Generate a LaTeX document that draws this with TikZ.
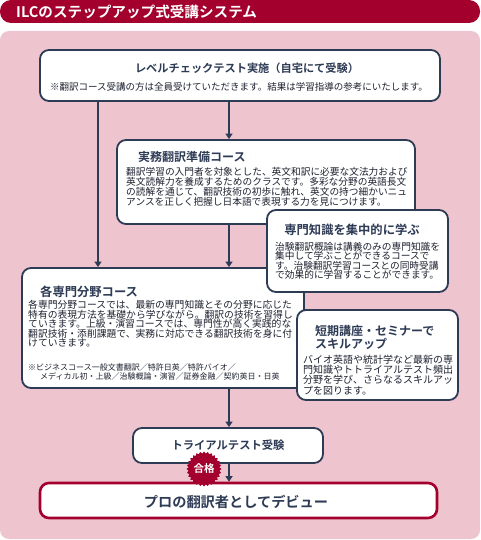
\documentclass[tikz,border=0pt]{standalone}
\usepackage{fontspec}
\setmainfont{Noto Sans CJK JP}[BoldFont={Noto Sans CJK JP Bold}]
\usetikzlibrary{arrows.meta,shapes.geometric}
\definecolor{ilcred}{HTML}{A3002E}
\definecolor{ilcpink}{HTML}{EEC4CF}
\definecolor{ilcnavy}{HTML}{2E3B55}
\definecolor{ilctext}{HTML}{1E2230}
\newcommand{\fsz}[2]{\fontsize{#1}{#2}\selectfont}
\begin{document}
\begin{tikzpicture}[x=1pt,y=-1pt,
  box/.style={draw=ilcnavy, line width=1.8pt, fill=white, rounded corners=9pt, inner sep=0, rectangle},
  arr/.style={draw=ilcnavy, line width=1.8pt, -{Triangle[width=7pt,length=5.5pt]}},
  body/.style={inner sep=0, anchor=north west, align=left, text=ilctext},
  head/.style={inner sep=0, text=ilcnavy, font=\bfseries}]
\useasboundingbox (0,0) rectangle (480,540);
% background
\fill[ilcpink, rounded corners=9pt] (0,31) rectangle (480,539);
\fill[ilcred, rounded corners=11pt] (0,0) rectangle (480,23);
\node[inner sep=0, anchor=west, text=white, font=\bfseries\fsz{14.6}{14.6}] (ttl) at (16,11.5) {ILCのステップアップ式受講システム};

% coordinates for vertical connectors
\coordinate (xl) at (98,0);
\coordinate (xc) at (229,0);

% boxes
\node[box, minimum width=400pt, minimum height=51pt] (lvl) at (240,75.5) {};
\node[box, minimum width=298pt, minimum height=84pt] (prep) at (266,182) {};
\node[box, minimum width=282pt, minimum height=120pt] (spec) at (163,328) {};
\node[box, minimum width=181pt, minimum height=82pt] (focus) at (357.5,251) {};
\node[box, minimum width=161pt, minimum height=90pt] (short) at (377.5,355) {};
\node[box, minimum width=190pt, minimum height=35pt] (trial) at (228,445.5) {};

% connectors
\draw[arr] (lvl.south -| xl) -- (spec.north -| xl);
\draw[arr] (lvl.south -| xc) -- (prep.north -| xc);
\draw[arr] (prep.south -| xc) -- (spec.north -| xc);
\draw[arr] (spec.south -| xc) -- (trial.north -| xc);

% final
\node[box, draw=ilcred, line width=2.6pt, minimum width=397pt, minimum height=35pt] (final) at (238.5,500.5) {};
\draw[arr] (trial.south -| xc) -- (final.north -| xc);
\node[star, star points=28, star point ratio=1.13, fill=ilcred, minimum size=35pt, inner sep=0,
      text=white, font=\bfseries\fsz{10.5}{10.5}] (pass) at (204,469) {合格};

% texts
\node[head, font=\bfseries\fsz{11.2}{11.2}] (lvlt) at (247,68) {レベルチェックテスト実施（自宅にて受験）};
\node[inner sep=0, text=ilctext, font=\fsz{9.5}{9.5}] (lvls) at (239,87) {※翻訳コース受講の方は全員受けていただきます。結果は学習指導の参考にいたします。};

\node[head, anchor=west, font=\bfseries\fsz{12}{12}] (prept) at (138,157) {実務翻訳準備コース};
\node[body, font=\fsz{9.7}{10.2}] (prepb) at (126,167) {翻訳学習の入門者を対象とした、英文和訳に必要な文法力および\\英文読解力を養成するためのクラスです。多彩な分野の英語長文\\の読解を通じて、翻訳技術の初歩に触れ、英文の持つ細かいニュ\\アンスを正しく把握し日本語で表現する力を見につけます。};

\node[head, font=\bfseries\fsz{12.3}{12.3}] (focust) at (352,230) {専門知識を集中的に学ぶ};
\node[body, font=\fsz{9.7}{9.5}] (focusb) at (275,242) {治験翻訳概論は講義のみの専門知識を\\集中して学ぶことができるコースで\\す。治験翻訳学習コースとの同時受講\\で効果的に学習することができます。};

\node[head, anchor=west, font=\bfseries\fsz{12.3}{12.3}] (spect) at (40,292) {各専門分野コース};
\node[body, font=\fsz{9.8}{9.6}] (specb) at (28,300) {各専門分野コースでは、最新の専門知識とその分野に応じた\\特有の表現方法を基礎から学びながら。翻訳の技術を習得し\\ていきます。上級・演習コースでは、専門性が高く実践的な\\翻訳技術・添削課題で、実務に対応できる翻訳技術を身に付\\けていきます。};
\node[body, font=\fsz{8}{9}] (specn) at (28,364) {※ビジネスコース一般文書翻訳／特許日英／特許バイオ／\\\hspace{12pt}メディカル初・上級／治験概論・演習／証券金融／契約英日・日英};

\node[head, body, text=ilcnavy, font=\bfseries\fsz{12}{13}] (shortt) at (315,325) {短期講座・セミナーで\\スキルアップ};
\node[body, font=\fsz{10}{10.3}] (shortb) at (303,354.5) {バイオ英語や統計学など最新の専\\門知識やトトライアルテスト頻出\\分野を学び、さらなるスキルアッ\\プを図ります。};

\node[head, font=\bfseries\fsz{11.3}{11.3}] (trialt) at (228,445) {トライアルテスト受験};
\node[head, font=\bfseries\fsz{14.2}{14.2}] (finalt) at (236,502) {プロの翻訳者としてデビュー};
\end{tikzpicture}
\end{document}
